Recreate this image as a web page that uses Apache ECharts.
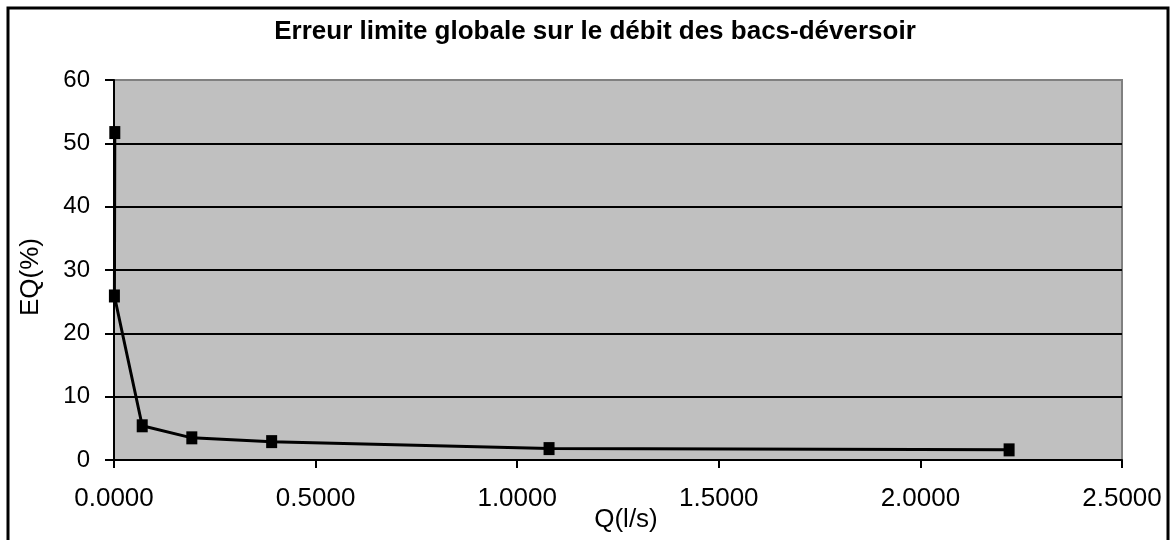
<!DOCTYPE html>
<html>
<head>
<meta charset="utf-8">
<script src="https://cdn.jsdelivr.net/npm/echarts@6/dist/echarts.min.js"></script>
<style>html,body{margin:0;padding:0;background:#fff}#c{width:1172px;height:540px}</style>
</head>
<body>
<div id="c"></div>
<script>
const titleText = "Erreur limite globale sur le débit des bacs-déversoir";
const xName = "Q(l/s)";
const yName = "EQ(%)";
const qValues = [0.002, 0.001, 0.070, 0.193, 0.391, 1.079, 2.220];
const eqValues = [51.7, 25.9, 5.4, 3.5, 2.9, 1.8, 1.6];

const data = qValues.map((q, i) => [q, eqValues[i]]);
const chart = echarts.init(document.getElementById('c'), null, {renderer: 'canvas'});
const font = "'Liberation Sans', Arial, sans-serif";
chart.setOption({
  animation: false,
  backgroundColor: '#fff',
  title: {
    text: titleText, left: 590, top: 14, textAlign: 'center',
    textStyle: {fontFamily: font, fontWeight: 'bold', fontSize: 26, color: '#000'}
  },
  graphic: [{
    type: 'rect', shape: {x: 8, y: 8, width: 1160, height: 540},
    style: {fill: 'none', stroke: '#000', lineWidth: 3}, z: 100
  }],
  grid: {
    left: 114, right: 50, top: 80, bottom: 80,
    containLabel: false, outerBoundsMode: 'none',
    show: true, backgroundColor: '#c0c0c0', borderColor: '#808080', borderWidth: 2
  },
  xAxis: {
    type: 'value', min: 0, max: 2.5, interval: 0.5,
    name: xName, nameLocation: 'middle', nameGap: 47, nameMoveOverlap: false,
    nameTextStyle: {fontFamily: font, fontSize: 26, color: '#000', padding: [0, 0, 0, 16]},
    axisLine: {show: true, lineStyle: {color: '#000', width: 2}},
    axisTick: {show: true, length: 8, lineStyle: {color: '#000', width: 2}},
    axisLabel: {fontFamily: font, fontSize: 26, color: '#000', margin: 26,
      formatter: v => v.toFixed(4)},
    splitLine: {show: false}
  },
  yAxis: {
    type: 'value', min: 0, max: 60, interval: 10,
    name: yName, nameLocation: 'middle', nameGap: 70, nameRotate: 90, nameMoveOverlap: false,
    nameTextStyle: {fontFamily: font, fontSize: 26, color: '#000', padding: [0, 14, 0, 0]},
    axisLine: {show: true, lineStyle: {color: '#000', width: 2}},
    axisTick: {show: true, length: 9, lineStyle: {color: '#000', width: 2}},
    axisLabel: {fontFamily: font, fontSize: 24, color: '#000', margin: 24},
    splitLine: {show: true, showMaxLine: false, lineStyle: {color: '#000', width: 2}}
  },
  series: [{
    type: 'line', data: data,
    symbol: 'rect', symbolSize: [11, 13],
    itemStyle: {color: '#000'},
    lineStyle: {color: '#000', width: 3},
    z: 5
  }]
});
</script>
</body>
</html>
